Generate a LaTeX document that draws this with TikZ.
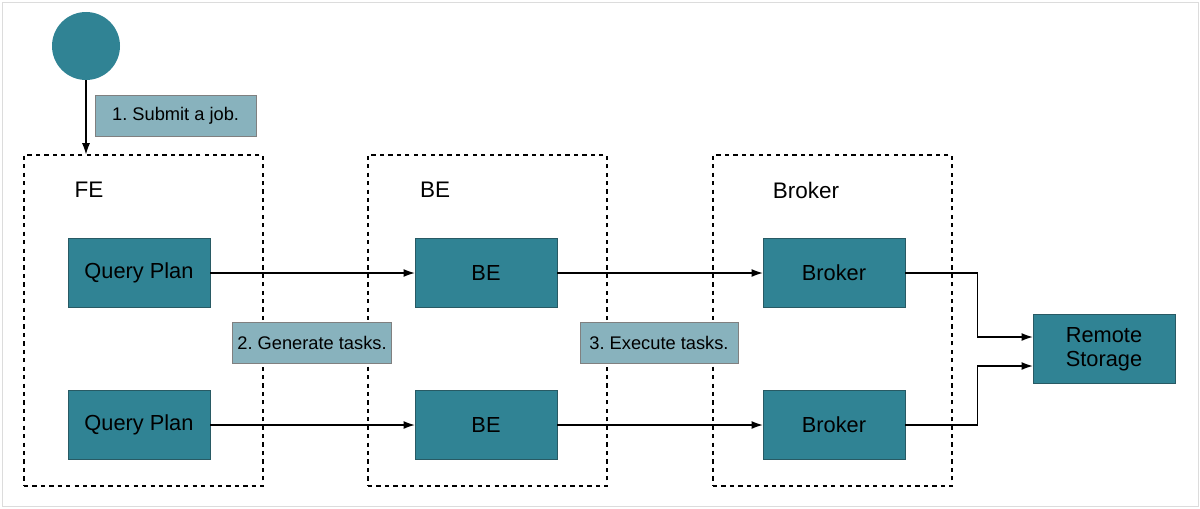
\documentclass[tikz,border=0pt]{standalone}
\usepackage{fontspec}
\setmainfont{Liberation Sans}
\usetikzlibrary{shapes,arrows,arrows.meta,positioning,fit,backgrounds}
\usepackage{xcolor}
\definecolor{tealbox}{RGB}{48,131,148}
\definecolor{tealedge}{RGB}{40,90,100}
\definecolor{steplabel}{RGB}{136,178,189}
\definecolor{frameline}{RGB}{220,220,220}
\frenchspacing

\begin{document}
\begin{tikzpicture}[>={Latex[length=2.8mm,width=2mm]}]
      \tikzstyle{unit} = [rectangle, draw=tealedge, fill=tealbox, minimum width=3.55cm, minimum height=1.725cm, font=\fontsize{15.5}{17}\selectfont]
      \tikzstyle{group} = [rectangle, draw, dashed, thick, minimum width=5.975cm, minimum height=8.275cm]
      \tikzstyle{title} = [font=\fontsize{16}{19}\selectfont]
      \tikzstyle{steplbl} = [rectangle, draw=gray, fill=steplabel, minimum height=1.025cm, font=\fontsize{13}{15}\selectfont]

      % outer frame
      \useasboundingbox (0,0) rectangle (30,-12.7);
      \draw[frameline] (0.05,-0.05) rectangle (29.95,-12.65);

      % user
      \node[circle, fill=tealbox, minimum size=1.7cm] (user) at (2.15,-1.15) {};

      % groups
      \node[group] (fe) at (3.5875,-8.0125) {};
      \node[group] (be) at (12.1875,-8.0125) {};
      \node[group] (brk) at (20.8125,-8.0125) {};
      \node[title] (fetitle) at (2.225,-4.75) {FE};
      \node[title] (betitle) at (10.875,-4.75) {BE};
      \node[title] (brktitle) at (20.15,-4.75) {Broker};

      % units
      \node[unit] (qp1) at (3.475,-6.825) {Query Plan};
      \node[unit] (qp2) at (3.475,-10.625) {Query Plan};
      \node[unit] (be1) at (12.15,-6.825) {BE};
      \node[unit] (be2) at (12.15,-10.625) {BE};
      \node[unit] (b1) at (20.85,-6.825) {Broker};
      \node[unit] (b2) at (20.85,-10.625) {Broker};
      \node[unit, align=center] (rs) at (27.6,-8.725) {Remote\\Storage};

      % step labels
      \node[steplbl, minimum width=4.03cm] (s1) at (4.39,-2.9) {1. Submit a job.};
      \node[steplbl, minimum width=3.875cm] (s2) at (7.8,-8.575) {2. Generate tasks.};
      \node[steplbl, minimum width=3.95cm] (s3) at (16.475,-8.575) {3. Execute tasks.};

      % flows
      \draw[->, thick] (user.south) -- (user.south |- fe.north);
      \draw[->, thick] (qp1) -- (be1);
      \draw[->, thick] (qp2) -- (be2);
      \draw[->, thick] (be1) -- (b1);
      \draw[->, thick] (be2) -- (b2);
      \draw[->, thick] (b1.east) -- ++(1.8,0) |- ([yshift=3mm]rs.west);
      \draw[->, thick] (b2.east) -- ++(1.8,0) |- ([yshift=-4.25mm]rs.west);
    \end{tikzpicture}
\end{document}
